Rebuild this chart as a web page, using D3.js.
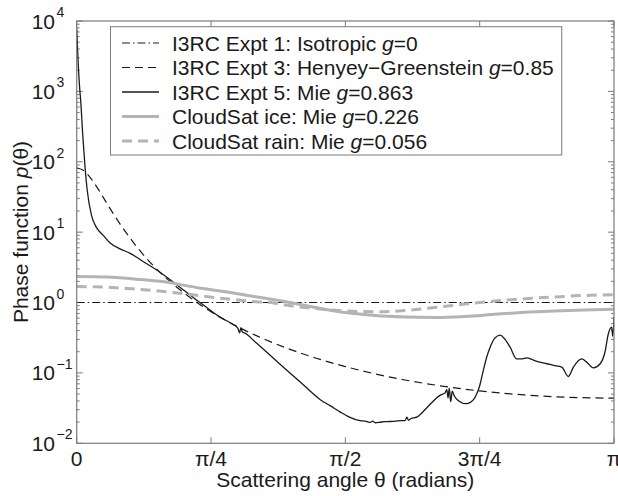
<!DOCTYPE html>
<html><head><meta charset="utf-8">
<script src="https://cdn.jsdelivr.net/npm/d3@7"></script>
<style>
body{margin:0;background:#fff;}
text{font-family:"Liberation Sans",Arial,Helvetica,sans-serif;fill:#1a1a1a;}
</style></head>
<body><svg id="c" width="618" height="496"></svg>
<script>
// angles in degrees (0..180 = 0..π)
const xTickValues = [0, 45, 90, 135, 180];
const xTickLabels = ["0", "π/4", "π/2", "3π/4", "π"];
const yTickExponents = [4, 3, 2, 1, 0, -1, -2];

const isoTheta = [0, 180];
const isoVals = [1, 1];

const hgTheta = [0,2.5,5,7.5,10,12.5,15,20,25,30,35,40,45,50,55,60,70,80,90,100,110,120,135,150,165,180];
const hgVals  = [82.2,74.1,56.3,38.9,26.1,17.6,12.2,6.28,3.58,2.22,1.47,1.02,0.739,0.555,0.43,0.341,0.228,0.163,0.123,0.0968,0.0794,0.0673,0.0555,0.0486,0.045,0.0438];

const mieTheta = [0,0.5,1.0,1.34,2.0,2.8,3.5,5.0,6.7,8.9,11.2,14.5,17.9,22,27.9,35,42,48,52,54,54.6,55.0,55.5,56.2,60,65,70,74.8,81.5,85,88.2,91,94.9,97,98.3,99.2,100,101.6,103,105,107,108.5,110,110.6,111.2,112,113.9,117.3,120,121.7,123.4,124.0,124.4,124.8,125.3,125.8,126.5,128,130.5,133,134,135.1,136.2,137.4,138.5,140,141.8,143.5,145.2,147.4,149,150.8,153,155.2,157.5,159.7,162.5,164.7,166.4,169.2,171,173.1,175.3,177,178.1,179.2,179.6,180];
const mieVals  = [7800,2500,1100,740,250,83,40,17,11.5,9.0,7.0,5.8,5.0,3.9,2.7,1.6,0.95,0.62,0.5,0.43,0.37,0.44,0.38,0.37,0.27,0.175,0.113,0.075,0.042,0.034,0.028,0.024,0.021,0.0205,0.0198,0.0207,0.0196,0.0199,0.0203,0.0204,0.0207,0.021,0.021,0.0235,0.0212,0.0225,0.0235,0.032,0.042,0.048,0.052,0.058,0.044,0.061,0.039,0.055,0.047,0.040,0.0365,0.042,0.05,0.068,0.108,0.17,0.232,0.31,0.345,0.3,0.232,0.158,0.158,0.164,0.152,0.142,0.135,0.128,0.121,0.089,0.121,0.158,0.14,0.118,0.134,0.2,0.36,0.446,0.33,0.62];

const iceTheta = [0,10,20,28,40,50,61,71.5,80,90,100,110,120,130,140,150,160,170,180];
const iceVals  = [2.35,2.3,2.15,2.0,1.64,1.42,1.19,1.0,0.85,0.72,0.655,0.625,0.615,0.635,0.68,0.725,0.76,0.785,0.8];

const rainTheta = [0,10,20,30,40,50,60,65,70,80,90,100,110,120,130,140,150,160,170,180];
const rainVals  = [1.69,1.65,1.55,1.42,1.27,1.13,1.03,1.0,0.92,0.82,0.76,0.74,0.77,0.85,0.95,1.05,1.13,1.2,1.26,1.29];

const legendLabels = [
  ["I3RC Expt 1: Isotropic ", "g", "=0"],
  ["I3RC Expt 3: Henyey\u2212Greenstein ", "g", "=0.85"],
  ["I3RC Expt 5: Mie ", "g", "=0.863"],
  ["CloudSat ice: Mie ", "g", "=0.226"],
  ["CloudSat rain: Mie ", "g", "=0.056"]
];

const series = [
  {t: isoTheta, v: isoVals, color: "#1a1a1a", w: 1.1, dash: "8,3,1.5,3"},
  {t: hgTheta, v: hgVals, color: "#1a1a1a", w: 1.2, dash: "8,5"},
  {t: mieTheta, v: mieVals, color: "#1a1a1a", w: 1.3, dash: null},
  {t: iceTheta, v: iceVals, color: "#b4b4b4", w: 3, dash: null},
  {t: rainTheta, v: rainVals, color: "#b4b4b4", w: 3, dash: "10,6"}
];

const L = 76.7, R = 614, T = 21, B = 443.3;
const svg = d3.select("#c");
const x = d3.scaleLinear().domain([0, 180]).range([L, R]);
const y = d3.scaleLog().domain([1e-2, 1e4]).range([B, T]);

svg.append("defs").append("clipPath").attr("id", "clip")
  .append("rect").attr("x", L).attr("y", T).attr("width", R - L).attr("height", B - T);

const axisColor = "#7a7a7a";
const g = svg.append("g");
for (let e = -2; e <= 4; e++) {
  for (let m = 1; m <= 9; m++) {
    const val = m * Math.pow(10, e);
    if (val > 1e4 + 1) continue;
    const len = m === 1 ? 6 : 3;
    const yy = y(val);
    g.append("line").attr("x1", L).attr("x2", L + len).attr("y1", yy).attr("y2", yy).attr("stroke", axisColor).attr("stroke-width", 1);
    g.append("line").attr("x1", R).attr("x2", R - len).attr("y1", yy).attr("y2", yy).attr("stroke", axisColor).attr("stroke-width", 1);
  }
}
xTickValues.forEach(v => {
  g.append("line").attr("x1", x(v)).attr("x2", x(v)).attr("y1", B).attr("y2", B - 6).attr("stroke", axisColor);
  g.append("line").attr("x1", x(v)).attr("x2", x(v)).attr("y1", T).attr("y2", T + 6).attr("stroke", axisColor);
});

const plot = svg.append("g").attr("clip-path", "url(#clip)");
series.forEach(s => {
  const pts = s.t.map((t, i) => [t, s.v[i]]);
  const line = d3.line().x(d => x(d[0])).y(d => y(d[1])).curve(d3.curveMonotoneX);
  plot.append("path").attr("d", line(pts)).attr("fill", "none")
    .attr("stroke", s.color).attr("stroke-width", s.w)
    .attr("stroke-dasharray", s.dash).attr("stroke-linejoin", "round");
});

svg.append("rect").attr("x", L).attr("y", T).attr("width", R - L).attr("height", B - T)
  .attr("fill", "none").attr("stroke", axisColor).attr("stroke-width", 1.2);

yTickExponents.forEach(e => {
  const yy = y(Math.pow(10, e));
  svg.append("text").attr("x", 55).attr("y", yy + 7.5).attr("text-anchor", "end")
    .attr("font-size", 21).text("10");
  svg.append("text").attr("x", 56.5).attr("y", yy - 4).attr("text-anchor", "start")
    .attr("font-size", 14).text(e < 0 ? "\u2212" + Math.abs(e) : String(e));
});
xTickValues.forEach((v, i) => {
  svg.append("text").attr("x", x(v)).attr("y", 466).attr("text-anchor", "middle")
    .attr("font-size", 21).text(xTickLabels[i]);
});
svg.append("text").attr("x", (L + R) / 2).attr("y", 487).attr("text-anchor", "middle")
  .attr("font-size", 21).text("Scattering angle \u03b8 (radians)");
const yt = svg.append("text").attr("transform", "translate(28,232) rotate(-90)")
  .attr("text-anchor", "middle").attr("font-size", 21);
yt.append("tspan").text("Phase function ");
yt.append("tspan").attr("font-style", "italic").text("p");
yt.append("tspan").text("(\u03b8)");

// legend
const lg = svg.append("g");
const box = lg.append("rect").attr("x", 110.5).attr("y", 26.7).attr("height", 128.3)
  .attr("fill", "#fff").attr("stroke", axisColor).attr("stroke-width", 1);
let maxEnd = 0;
legendLabels.forEach((lab, i) => {
  const yy = 43 + i * 24.5;
  const s = series[i];
  lg.append("line").attr("x1", 122).attr("x2", 159).attr("y1", yy).attr("y2", yy)
    .attr("stroke", s.color).attr("stroke-width", s.w).attr("stroke-dasharray", s.dash);
  const t = lg.append("text").attr("x", 172).attr("y", yy + 7.5).attr("font-size", 21);
  t.append("tspan").text(lab[0]);
  t.append("tspan").attr("font-style", "italic").text(lab[1]);
  t.append("tspan").text(lab[2]);
  maxEnd = Math.max(maxEnd, 172 + t.node().getComputedTextLength());
});
box.attr("width", maxEnd + 8 - 110.5);
</script></body></html>
